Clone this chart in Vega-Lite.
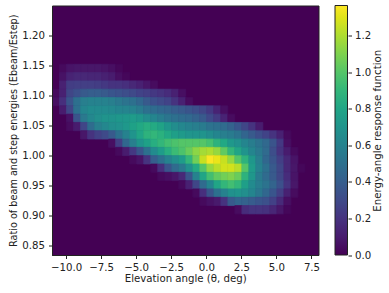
{"$schema":"https://vega.github.io/schema/vega-lite/v6.json","width":266.5,"height":249.5,"autosize":{"type":"none"},"padding":{"left":52,"top":5.5,"right":70.5,"bottom":38},"background":"white","view":{"fill":"#440154","stroke":"#222","strokeWidth":1},
"data":{"values":[
{"t":-10.25,"r":1.1458,"v":0.03},{"t":-9.75,"r":1.1458,"v":0.07},{"t":-9.25,"r":1.1458,"v":0.08},{"t":-8.75,"r":1.1458,"v":0.08},{"t":-8.25,"r":1.1458,"v":0.08},{"t":-7.75,"r":1.1458,"v":0.08},{"t":-7.25,"r":1.1458,"v":0.07},{"t":-6.75,"r":1.1458,"v":0.05},{"t":-6.25,"r":1.1458,"v":0.02},
{"t":-10.25,"r":1.1319,"v":0.06},{"t":-9.75,"r":1.1319,"v":0.13},{"t":-9.25,"r":1.1319,"v":0.15},{"t":-8.75,"r":1.1319,"v":0.15},{"t":-8.25,"r":1.1319,"v":0.14},{"t":-7.75,"r":1.1319,"v":0.14},{"t":-7.25,"r":1.1319,"v":0.12},{"t":-6.75,"r":1.1319,"v":0.1},{"t":-6.25,"r":1.1319,"v":0.05},{"t":-5.75,"r":1.1319,"v":0.02},
{"t":-10.25,"r":1.1181,"v":0.12},{"t":-9.75,"r":1.1181,"v":0.24},{"t":-9.25,"r":1.1181,"v":0.25},{"t":-8.75,"r":1.1181,"v":0.25},{"t":-8.25,"r":1.1181,"v":0.25},{"t":-7.75,"r":1.1181,"v":0.24},{"t":-7.25,"r":1.1181,"v":0.22},{"t":-6.75,"r":1.1181,"v":0.2},{"t":-6.25,"r":1.1181,"v":0.2},{"t":-5.75,"r":1.1181,"v":0.18},{"t":-5.25,"r":1.1181,"v":0.15},{"t":-4.75,"r":1.1181,"v":0.12},{"t":-4.25,"r":1.1181,"v":0.08},{"t":-3.75,"r":1.1181,"v":0.04},
{"t":-10.75,"r":1.1042,"v":0.03},{"t":-10.25,"r":1.1042,"v":0.12},{"t":-9.75,"r":1.1042,"v":0.28},{"t":-9.25,"r":1.1042,"v":0.33},{"t":-8.75,"r":1.1042,"v":0.38},{"t":-8.25,"r":1.1042,"v":0.4},{"t":-7.75,"r":1.1042,"v":0.4},{"t":-7.25,"r":1.1042,"v":0.38},{"t":-6.75,"r":1.1042,"v":0.36},{"t":-6.25,"r":1.1042,"v":0.34},{"t":-5.75,"r":1.1042,"v":0.32},{"t":-5.25,"r":1.1042,"v":0.3},{"t":-4.75,"r":1.1042,"v":0.27},{"t":-4.25,"r":1.1042,"v":0.25},{"t":-3.75,"r":1.1042,"v":0.22},{"t":-3.25,"r":1.1042,"v":0.2},{"t":-2.75,"r":1.1042,"v":0.17},{"t":-2.25,"r":1.1042,"v":0.12},{"t":-1.75,"r":1.1042,"v":0.05},
{"t":-10.75,"r":1.0903,"v":0.05},{"t":-10.25,"r":1.0903,"v":0.18},{"t":-9.75,"r":1.0903,"v":0.35},{"t":-9.25,"r":1.0903,"v":0.5},{"t":-8.75,"r":1.0903,"v":0.58},{"t":-8.25,"r":1.0903,"v":0.6},{"t":-7.75,"r":1.0903,"v":0.6},{"t":-7.25,"r":1.0903,"v":0.6},{"t":-6.75,"r":1.0903,"v":0.58},{"t":-6.25,"r":1.0903,"v":0.55},{"t":-5.75,"r":1.0903,"v":0.52},{"t":-5.25,"r":1.0903,"v":0.5},{"t":-4.75,"r":1.0903,"v":0.45},{"t":-4.25,"r":1.0903,"v":0.38},{"t":-3.75,"r":1.0903,"v":0.33},{"t":-3.25,"r":1.0903,"v":0.3},{"t":-2.75,"r":1.0903,"v":0.27},{"t":-2.25,"r":1.0903,"v":0.2},{"t":-1.75,"r":1.0903,"v":0.12},{"t":-1.25,"r":1.0903,"v":0.04},
{"t":-10.25,"r":1.0764,"v":0.1},{"t":-9.75,"r":1.0764,"v":0.28},{"t":-9.25,"r":1.0764,"v":0.5},{"t":-8.75,"r":1.0764,"v":0.62},{"t":-8.25,"r":1.0764,"v":0.65},{"t":-7.75,"r":1.0764,"v":0.65},{"t":-7.25,"r":1.0764,"v":0.65},{"t":-6.75,"r":1.0764,"v":0.64},{"t":-6.25,"r":1.0764,"v":0.62},{"t":-5.75,"r":1.0764,"v":0.61},{"t":-5.25,"r":1.0764,"v":0.6},{"t":-4.75,"r":1.0764,"v":0.56},{"t":-4.25,"r":1.0764,"v":0.5},{"t":-3.75,"r":1.0764,"v":0.48},{"t":-3.25,"r":1.0764,"v":0.45},{"t":-2.75,"r":1.0764,"v":0.43},{"t":-2.25,"r":1.0764,"v":0.4},{"t":-1.75,"r":1.0764,"v":0.38},{"t":-1.25,"r":1.0764,"v":0.35},{"t":-0.75,"r":1.0764,"v":0.32},{"t":-0.25,"r":1.0764,"v":0.28},{"t":0.25,"r":1.0764,"v":0.22},{"t":0.75,"r":1.0764,"v":0.13},{"t":1.25,"r":1.0764,"v":0.05},
{"t":-9.75,"r":1.0625,"v":0.06},{"t":-9.25,"r":1.0625,"v":0.35},{"t":-8.75,"r":1.0625,"v":0.55},{"t":-8.25,"r":1.0625,"v":0.63},{"t":-7.75,"r":1.0625,"v":0.67},{"t":-7.25,"r":1.0625,"v":0.7},{"t":-6.75,"r":1.0625,"v":0.7},{"t":-6.25,"r":1.0625,"v":0.72},{"t":-5.75,"r":1.0625,"v":0.73},{"t":-5.25,"r":1.0625,"v":0.75},{"t":-4.75,"r":1.0625,"v":0.72},{"t":-4.25,"r":1.0625,"v":0.66},{"t":-3.75,"r":1.0625,"v":0.62},{"t":-3.25,"r":1.0625,"v":0.57},{"t":-2.75,"r":1.0625,"v":0.53},{"t":-2.25,"r":1.0625,"v":0.5},{"t":-1.75,"r":1.0625,"v":0.48},{"t":-1.25,"r":1.0625,"v":0.46},{"t":-0.75,"r":1.0625,"v":0.42},{"t":-0.25,"r":1.0625,"v":0.38},{"t":0.25,"r":1.0625,"v":0.3},{"t":0.75,"r":1.0625,"v":0.23},{"t":1.25,"r":1.0625,"v":0.13},{"t":1.75,"r":1.0625,"v":0.04},
{"t":-9.75,"r":1.0486,"v":0.04},{"t":-9.25,"r":1.0486,"v":0.1},{"t":-8.75,"r":1.0486,"v":0.28},{"t":-8.25,"r":1.0486,"v":0.48},{"t":-7.75,"r":1.0486,"v":0.58},{"t":-7.25,"r":1.0486,"v":0.63},{"t":-6.75,"r":1.0486,"v":0.67},{"t":-6.25,"r":1.0486,"v":0.69},{"t":-5.75,"r":1.0486,"v":0.73},{"t":-5.25,"r":1.0486,"v":0.78},{"t":-4.75,"r":1.0486,"v":0.82},{"t":-4.25,"r":1.0486,"v":0.85},{"t":-3.75,"r":1.0486,"v":0.83},{"t":-3.25,"r":1.0486,"v":0.79},{"t":-2.75,"r":1.0486,"v":0.72},{"t":-2.25,"r":1.0486,"v":0.66},{"t":-1.75,"r":1.0486,"v":0.63},{"t":-1.25,"r":1.0486,"v":0.6},{"t":-0.75,"r":1.0486,"v":0.58},{"t":-0.25,"r":1.0486,"v":0.56},{"t":0.25,"r":1.0486,"v":0.52},{"t":0.75,"r":1.0486,"v":0.5},{"t":1.25,"r":1.0486,"v":0.47},{"t":1.75,"r":1.0486,"v":0.42},{"t":2.25,"r":1.0486,"v":0.36},{"t":2.75,"r":1.0486,"v":0.28},{"t":3.25,"r":1.0486,"v":0.2},{"t":3.75,"r":1.0486,"v":0.1},
{"t":-8.75,"r":1.0347,"v":0.08},{"t":-8.25,"r":1.0347,"v":0.2},{"t":-7.75,"r":1.0347,"v":0.26},{"t":-7.25,"r":1.0347,"v":0.3},{"t":-6.75,"r":1.0347,"v":0.38},{"t":-6.25,"r":1.0347,"v":0.5},{"t":-5.75,"r":1.0347,"v":0.6},{"t":-5.25,"r":1.0347,"v":0.7},{"t":-4.75,"r":1.0347,"v":0.8},{"t":-4.25,"r":1.0347,"v":0.88},{"t":-3.75,"r":1.0347,"v":0.9},{"t":-3.25,"r":1.0347,"v":0.87},{"t":-2.75,"r":1.0347,"v":0.82},{"t":-2.25,"r":1.0347,"v":0.77},{"t":-1.75,"r":1.0347,"v":0.74},{"t":-1.25,"r":1.0347,"v":0.71},{"t":-0.75,"r":1.0347,"v":0.7},{"t":-0.25,"r":1.0347,"v":0.7},{"t":0.25,"r":1.0347,"v":0.66},{"t":0.75,"r":1.0347,"v":0.62},{"t":1.25,"r":1.0347,"v":0.58},{"t":1.75,"r":1.0347,"v":0.56},{"t":2.25,"r":1.0347,"v":0.52},{"t":2.75,"r":1.0347,"v":0.44},{"t":3.25,"r":1.0347,"v":0.38},{"t":3.75,"r":1.0347,"v":0.32},{"t":4.25,"r":1.0347,"v":0.27},{"t":4.75,"r":1.0347,"v":0.2},{"t":5.25,"r":1.0347,"v":0.12},{"t":5.75,"r":1.0347,"v":0.03},
{"t":-6.75,"r":1.0208,"v":0.05},{"t":-6.25,"r":1.0208,"v":0.25},{"t":-5.75,"r":1.0208,"v":0.45},{"t":-5.25,"r":1.0208,"v":0.58},{"t":-4.75,"r":1.0208,"v":0.7},{"t":-4.25,"r":1.0208,"v":0.78},{"t":-3.75,"r":1.0208,"v":0.85},{"t":-3.25,"r":1.0208,"v":0.9},{"t":-2.75,"r":1.0208,"v":0.95},{"t":-2.25,"r":1.0208,"v":0.98},{"t":-1.75,"r":1.0208,"v":1.0},{"t":-1.25,"r":1.0208,"v":1.0},{"t":-0.75,"r":1.0208,"v":1.0},{"t":-0.25,"r":1.0208,"v":1.0},{"t":0.25,"r":1.0208,"v":0.96},{"t":0.75,"r":1.0208,"v":0.88},{"t":1.25,"r":1.0208,"v":0.82},{"t":1.75,"r":1.0208,"v":0.73},{"t":2.25,"r":1.0208,"v":0.68},{"t":2.75,"r":1.0208,"v":0.62},{"t":3.25,"r":1.0208,"v":0.57},{"t":3.75,"r":1.0208,"v":0.52},{"t":4.25,"r":1.0208,"v":0.46},{"t":4.75,"r":1.0208,"v":0.35},{"t":5.25,"r":1.0208,"v":0.22},{"t":5.75,"r":1.0208,"v":0.05},
{"t":-6.25,"r":1.0069,"v":0.03},{"t":-5.75,"r":1.0069,"v":0.1},{"t":-5.25,"r":1.0069,"v":0.22},{"t":-4.75,"r":1.0069,"v":0.35},{"t":-4.25,"r":1.0069,"v":0.5},{"t":-3.75,"r":1.0069,"v":0.65},{"t":-3.25,"r":1.0069,"v":0.75},{"t":-2.75,"r":1.0069,"v":0.85},{"t":-2.25,"r":1.0069,"v":0.93},{"t":-1.75,"r":1.0069,"v":0.98},{"t":-1.25,"r":1.0069,"v":1.05},{"t":-0.75,"r":1.0069,"v":1.13},{"t":-0.25,"r":1.0069,"v":1.18},{"t":0.25,"r":1.0069,"v":1.2},{"t":0.75,"r":1.0069,"v":1.15},{"t":1.25,"r":1.0069,"v":1.03},{"t":1.75,"r":1.0069,"v":0.9},{"t":2.25,"r":1.0069,"v":0.8},{"t":2.75,"r":1.0069,"v":0.7},{"t":3.25,"r":1.0069,"v":0.62},{"t":3.75,"r":1.0069,"v":0.55},{"t":4.25,"r":1.0069,"v":0.47},{"t":4.75,"r":1.0069,"v":0.32},{"t":5.25,"r":1.0069,"v":0.2},{"t":5.75,"r":1.0069,"v":0.1},{"t":6.25,"r":1.0069,"v":0.03},
{"t":-5.25,"r":0.9931,"v":0.03},{"t":-4.75,"r":0.9931,"v":0.07},{"t":-4.25,"r":0.9931,"v":0.2},{"t":-3.75,"r":0.9931,"v":0.4},{"t":-3.25,"r":0.9931,"v":0.5},{"t":-2.75,"r":0.9931,"v":0.6},{"t":-2.25,"r":0.9931,"v":0.67},{"t":-1.75,"r":0.9931,"v":0.75},{"t":-1.25,"r":0.9931,"v":0.9},{"t":-0.75,"r":0.9931,"v":1.07},{"t":-0.25,"r":0.9931,"v":1.25},{"t":0.25,"r":0.9931,"v":1.36},{"t":0.75,"r":0.9931,"v":1.32},{"t":1.25,"r":0.9931,"v":1.25},{"t":1.75,"r":0.9931,"v":1.15},{"t":2.25,"r":0.9931,"v":1.0},{"t":2.75,"r":0.9931,"v":0.88},{"t":3.25,"r":0.9931,"v":0.72},{"t":3.75,"r":0.9931,"v":0.58},{"t":4.25,"r":0.9931,"v":0.45},{"t":4.75,"r":0.9931,"v":0.35},{"t":5.25,"r":0.9931,"v":0.25},{"t":5.75,"r":0.9931,"v":0.15},{"t":6.25,"r":0.9931,"v":0.07},
{"t":-3.75,"r":0.9792,"v":0.03},{"t":-3.25,"r":0.9792,"v":0.18},{"t":-2.75,"r":0.9792,"v":0.35},{"t":-2.25,"r":0.9792,"v":0.47},{"t":-1.75,"r":0.9792,"v":0.55},{"t":-1.25,"r":0.9792,"v":0.68},{"t":-0.75,"r":0.9792,"v":0.83},{"t":-0.25,"r":0.9792,"v":1.0},{"t":0.25,"r":0.9792,"v":1.15},{"t":0.75,"r":0.9792,"v":1.22},{"t":1.25,"r":0.9792,"v":1.27},{"t":1.75,"r":0.9792,"v":1.27},{"t":2.25,"r":0.9792,"v":1.22},{"t":2.75,"r":0.9792,"v":1.0},{"t":3.25,"r":0.9792,"v":0.75},{"t":3.75,"r":0.9792,"v":0.6},{"t":4.25,"r":0.9792,"v":0.5},{"t":4.75,"r":0.9792,"v":0.38},{"t":5.25,"r":0.9792,"v":0.28},{"t":5.75,"r":0.9792,"v":0.15},{"t":6.25,"r":0.9792,"v":0.08},{"t":6.75,"r":0.9792,"v":0.02},
{"t":-3.25,"r":0.9653,"v":0.03},{"t":-2.75,"r":0.9653,"v":0.05},{"t":-2.25,"r":0.9653,"v":0.08},{"t":-1.75,"r":0.9653,"v":0.15},{"t":-1.25,"r":0.9653,"v":0.35},{"t":-0.75,"r":0.9653,"v":0.6},{"t":-0.25,"r":0.9653,"v":0.8},{"t":0.25,"r":0.9653,"v":0.95},{"t":0.75,"r":0.9653,"v":1.03},{"t":1.25,"r":0.9653,"v":1.07},{"t":1.75,"r":0.9653,"v":1.1},{"t":2.25,"r":0.9653,"v":1.05},{"t":2.75,"r":0.9653,"v":0.88},{"t":3.25,"r":0.9653,"v":0.72},{"t":3.75,"r":0.9653,"v":0.56},{"t":4.25,"r":0.9653,"v":0.47},{"t":4.75,"r":0.9653,"v":0.38},{"t":5.25,"r":0.9653,"v":0.28},{"t":5.75,"r":0.9653,"v":0.17},{"t":6.25,"r":0.9653,"v":0.07},
{"t":-1.75,"r":0.9514,"v":0.03},{"t":-1.25,"r":0.9514,"v":0.12},{"t":-0.75,"r":0.9514,"v":0.28},{"t":-0.25,"r":0.9514,"v":0.47},{"t":0.25,"r":0.9514,"v":0.62},{"t":0.75,"r":0.9514,"v":0.8},{"t":1.25,"r":0.9514,"v":0.9},{"t":1.75,"r":0.9514,"v":0.95},{"t":2.25,"r":0.9514,"v":0.9},{"t":2.75,"r":0.9514,"v":0.77},{"t":3.25,"r":0.9514,"v":0.65},{"t":3.75,"r":0.9514,"v":0.57},{"t":4.25,"r":0.9514,"v":0.52},{"t":4.75,"r":0.9514,"v":0.43},{"t":5.25,"r":0.9514,"v":0.33},{"t":5.75,"r":0.9514,"v":0.2},{"t":6.25,"r":0.9514,"v":0.08},
{"t":-0.75,"r":0.9375,"v":0.03},{"t":-0.25,"r":0.9375,"v":0.18},{"t":0.25,"r":0.9375,"v":0.35},{"t":0.75,"r":0.9375,"v":0.5},{"t":1.25,"r":0.9375,"v":0.6},{"t":1.75,"r":0.9375,"v":0.68},{"t":2.25,"r":0.9375,"v":0.7},{"t":2.75,"r":0.9375,"v":0.67},{"t":3.25,"r":0.9375,"v":0.62},{"t":3.75,"r":0.9375,"v":0.54},{"t":4.25,"r":0.9375,"v":0.45},{"t":4.75,"r":0.9375,"v":0.36},{"t":5.25,"r":0.9375,"v":0.25},{"t":5.75,"r":0.9375,"v":0.12},{"t":6.25,"r":0.9375,"v":0.04},
{"t":-0.25,"r":0.9236,"v":0.03},{"t":0.25,"r":0.9236,"v":0.06},{"t":0.75,"r":0.9236,"v":0.09},{"t":1.25,"r":0.9236,"v":0.2},{"t":1.75,"r":0.9236,"v":0.38},{"t":2.25,"r":0.9236,"v":0.44},{"t":2.75,"r":0.9236,"v":0.42},{"t":3.25,"r":0.9236,"v":0.39},{"t":3.75,"r":0.9236,"v":0.36},{"t":4.25,"r":0.9236,"v":0.33},{"t":4.75,"r":0.9236,"v":0.26},{"t":5.25,"r":0.9236,"v":0.16},{"t":5.75,"r":0.9236,"v":0.05},
{"t":2.25,"r":0.9097,"v":0.04},{"t":2.75,"r":0.9097,"v":0.17},{"t":3.25,"r":0.9097,"v":0.2},{"t":3.75,"r":0.9097,"v":0.2},{"t":4.25,"r":0.9097,"v":0.19},{"t":4.75,"r":0.9097,"v":0.14},{"t":5.25,"r":0.9097,"v":0.08},{"t":5.75,"r":0.9097,"v":0.02}
]},
"layer":[
{"mark":{"type":"rect","binSpacing":0,"strokeWidth":0.7,"stroke":{"expr":"scale('color', datum.v)"}},
"encoding":{
"x":{"field":"t","type":"quantitative","bin":{"extent":[-11,8],"step":0.5,"nice":false},"scale":{"domain":[-11,8],"nice":false,"zero":false},"axis":{"values":[-10,-7.5,-5,-2.5,0,2.5,5,7.5],"format":".1f","title":"Elevation angle (θ, deg)","grid":false,"tickSize":3.5,"tickColor":"#222","domainColor":"#222","labelColor":"#222","titleColor":"#222","labelFont":"DejaVu Sans","titleFont":"DejaVu Sans","labelFontSize":10.2,"titleFontSize":10.2,"titleFontWeight":"normal","labelPadding":4,"titlePadding":1,"labelFlush":false,"labelOverlap":false}},
"y":{"field":"r","type":"quantitative","bin":{"extent":[0.83333,1.25],"step":0.013889,"nice":false},"scale":{"domain":[0.8333,1.25],"nice":false,"zero":false},"axis":{"values":[0.85,0.9,0.95,1.0,1.05,1.1,1.15,1.2],"format":".2f","title":"Ratio of beam and step energies (Ebeam/Estep)","grid":false,"tickSize":3.5,"tickColor":"#222","domainColor":"#222","labelColor":"#222","titleColor":"#222","labelFont":"DejaVu Sans","titleFont":"DejaVu Sans","labelFontSize":10.2,"titleFontSize":9.7,"titleFontWeight":"normal","labelPadding":4,"titlePadding":3,"labelOverlap":false}},
"color":{"field":"v","type":"quantitative","scale":{"scheme":"viridis","domain":[0,1.364],"nice":false,"zero":true},"legend":{"type":"gradient","orient":"none","legendX":283,"legendY":0,"direction":"vertical","gradientLength":249.5,"gradientThickness":12.5,"gradientStrokeColor":"#222","gradientStrokeWidth":1,"labelExpr":"''","title":null}}
}},
{"mark":{"type":"point","opacity":0},
"encoding":{
"y":{"field":"v","type":"quantitative","scale":{"domain":[0,1.364],"nice":false,"zero":true},"axis":{"orient":"right","offset":29.5,"values":[0,0.2,0.4,0.6,0.8,1.0,1.2],"format":".1f","title":"Energy-angle response function","titleAngle":-90,"grid":false,"domain":false,"tickSize":3.5,"tickColor":"#222","labelColor":"#222","titleColor":"#222","labelFont":"DejaVu Sans","titleFont":"DejaVu Sans","labelFontSize":10.2,"titleFontSize":10.2,"titleFontWeight":"normal","labelPadding":3,"titlePadding":12,"labelOverlap":false,"labelFlush":false}}
}}
],
"resolve":{"scale":{"y":"independent"}}
}
